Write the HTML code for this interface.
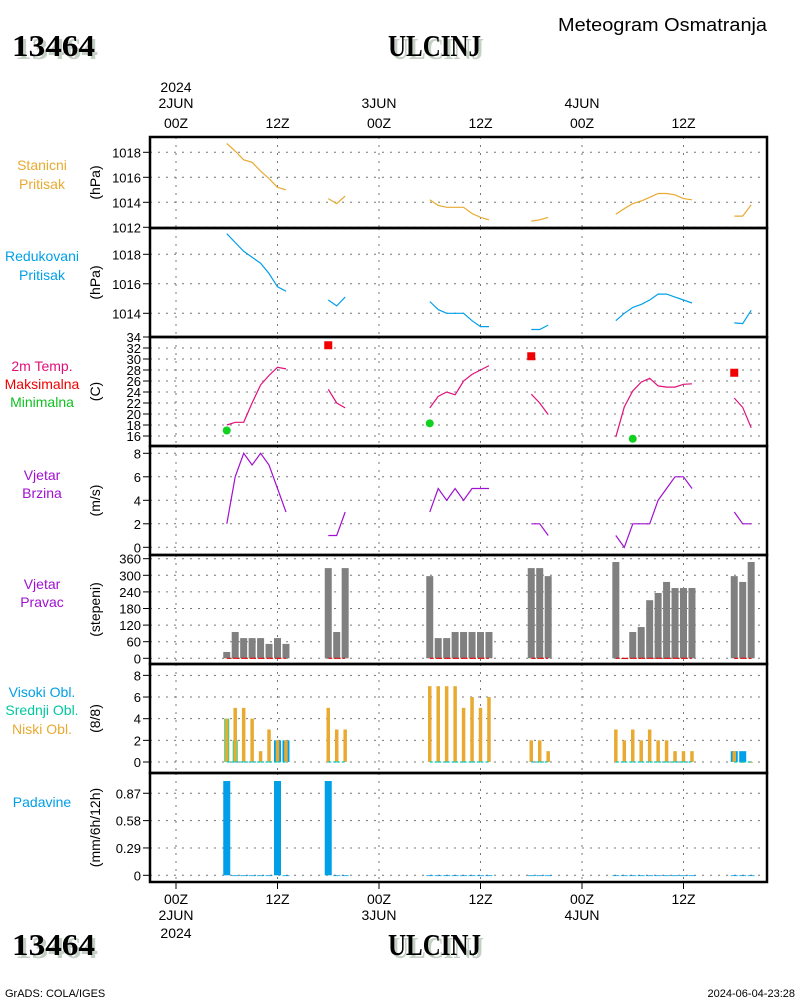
<!DOCTYPE html>
<html><head><meta charset="utf-8"><style>
body{margin:0;background:#fff;}
svg{display:block;font-family:"Liberation Sans",sans-serif;}
</style></head><body>
<svg id="c" width="800" height="1000" viewBox="0 0 800 1000"></svg>
<script>
const hours=[6,7,8,9,10,11,12,13,18,19,20,30,31,32,33,34,35,36,37,42,43,44,52,53,54,55,56,57,58,59,60,61,66,67,68];
const stanP=[1018.7,1018.1,1017.4,1017.2,1016.5,1015.9,1015.2,1015.0,1014.3,1013.9,1014.5,1014.2,1013.75,1013.6,1013.6,1013.6,1013.1,1012.8,1012.6,1012.5,1012.6,1012.8,1013.05,1013.5,1013.9,1014.1,1014.4,1014.7,1014.7,1014.6,1014.3,1014.2,1012.9,1012.9,1013.8];
const redP=[1019.4,1018.8,1018.2,1017.8,1017.4,1016.7,1015.8,1015.5,1014.9,1014.5,1015.1,1014.8,1014.25,1014,1014,1014,1013.5,1013.1,1013.1,1012.9,1012.9,1013.2,1013.5,1014,1014.4,1014.6,1014.9,1015.3,1015.3,1015.1,1014.9,1014.7,1013.35,1013.3,1014.2];
const temp=[18,18.5,18.5,22,25.3,27,28.5,28.2,24.5,22,21.1,21.1,23.2,24,23.5,26,27.2,28,28.8,23.6,22,19.9,15.8,21.3,24.2,25.8,26.5,25.1,24.9,24.9,25.4,25.5,22.9,21.2,17.5];
const maxHours=[18,42,66];
const maxT=[32.5,30.5,27.5];
const minHours=[6,30,54];
const minT=[17,18.3,15.5];
const wind=[2,6,8,7,8,7,5,3,1,1,3,3,5,4,5,4,5,5,5,2,2,1,1,0,2,2,2,4,5,6,6,5,3,2,2];
const windDir=[23,95,73,73,73,52,73,52,326,95,326,297,73,73,95,95,95,95,95,326,326,297,348,0,95,113,210,236,276,254,254,254,297,276,348];
const lowCloud=[4,5,5,4,1,3,2,2,5,3,3,7,7,7,7,5,6,5,6,2,2,1,3,2,3,2,3,2,2,1,1,1,1,0,0];
const midCloud=[4,2,0,0,0,0,0,0,0,0,0,0,0,0,0,0,0,0,0,0,0,0,0,0,0,0,0,0,0,0,0,0,0,0,0];
const highCloud=[0,0,0,0,0,0,2,2,0,0,0,0,0,0,0,0,0,0,0,0,0,0,0,0,0,0,0,0,0,0,0,0,1,1,0];
const precip=[1.0,0,0,0,0,0,1.0,0,1.0,0,0,0,0,0,0,0,0,0,0,0,0,0,0,0,0,0,0,0,0,0,0,0,0,0,0];
const stanTicks=[1012,1014,1016,1018];
const redTicks=[1014,1016,1018];
const tempTicks=[16,18,20,22,24,26,28,30,32,34];
const windTicks=[0,2,4,6,8];
const dirTicks=[0,60,120,180,240,300,360];
const cloudTicks=[0,2,4,6,8];
const precipTicks=[0,0.29,0.58,0.87];
const timeTicks=[0,12,24,36,48,60];
const timeLabels=["00Z","12Z","00Z","12Z","00Z","12Z"];

const NS="http://www.w3.org/2000/svg";
const svg=document.getElementById('c');
function el(tag,attrs,parent){const e=document.createElementNS(NS,tag);for(const k in attrs)e.setAttribute(k,attrs[k]);(parent||svg).appendChild(e);return e;}
function txt(s,x,y,attrs,name){const t=el('text',Object.assign({x:x,y:y,'font-size':13},attrs));t.textContent=s;


return t;}
const X=h=>176+h*101.5/12;
const L=150,R=767;
const panels=[
 {t:137,b:228,y:v=>202.3-(v-1014)*12.5,ticks:stanTicks,unit:"(hPa)",name:"station-pressure"},
 {t:228,b:337,y:v=>313.3-(v-1014)*14.75,ticks:redTicks,unit:"(hPa)",name:"reduced-pressure"},
 {t:337,b:446,y:v=>436-(v-16)*5.5,ticks:tempTicks,unit:"(C)",name:"temperature"},
 {t:446,b:555,y:v=>547.3-v*11.75,ticks:windTicks,unit:"(m/s)",name:"wind-speed"},
 {t:555,b:664,y:v=>658.3-v*0.2767,ticks:dirTicks,unit:"(stepeni)",name:"wind-direction"},
 {t:664,b:773,y:v=>762-v*10.83,ticks:cloudTicks,unit:"(8/8)",name:"cloud-cover"},
 {t:773,b:882,y:v=>875.3-v*94.3,ticks:precipTicks,unit:"(mm/6h/12h)",name:"precipitation"}];
panels.forEach(p=>{
 const g=el('g',{});
 
 
 timeTicks.forEach(h=>el('line',{x1:X(h),x2:X(h),y1:p.t,y2:p.b,stroke:'#777','stroke-dasharray':'2,6'},g));
 p.ticks.forEach(v=>{const y=p.y(v);
  el('line',{x1:L,x2:R,y1:y,y2:y,stroke:'#777','stroke-dasharray':'2,6'},g);
  el('line',{x1:143,x2:L,y1:y,y2:y,stroke:'#000'},g);
  txt(String(v),141,y+5,{'text-anchor':'end'},p.name+'-tick-label');});
 const cy=(p.t+p.b)/2;
 txt(p.unit,100,cy,{'text-anchor':'middle',transform:`rotate(-90 100 ${cy})`,'font-size':14},p.name+'-axis-title');
});
function line(vals,pi,color,name){
 const p=panels[pi];let d="";
 hours.forEach((h,i)=>{const v=vals[i];const cont=i>0&&hours[i]-hours[i-1]===1;
  d+=(cont?"L":"M")+X(h).toFixed(1)+","+p.y(v).toFixed(1);});
 const e=el('path',{d:d,fill:'none',stroke:color,'stroke-width':1.2});
 
 
}
line(stanP,0,'#e8aa30','station-pressure-line');
line(redP,1,'#00a0e8','reduced-pressure-line');
line(temp,2,'#e0107a','temperature-line');
line(wind,3,'#a010d0','wind-speed-line');
maxHours.forEach((h,i)=>{const r=el('rect',{x:X(h)-4,y:panels[2].y(maxT[i])-4,width:8,height:8,fill:'#f00000'});
 
 });
minHours.forEach((h,i)=>{const c=el('circle',{cx:X(h),cy:panels[2].y(minT[i]),r:4,fill:'#10d020'});
 
 });
function bar(h,v,pi,w,color,name){const p=panels[pi];const y0=p.y(0),y1=p.y(v);
 const r=el('rect',{x:X(h)-w/2,y:Math.min(y0,y1),width:w,height:Math.max(Math.abs(y0-y1),0.8),fill:color});
 
 }
hours.forEach((h,i)=>{
 bar(h,windDir[i],4,7,'#808080','wind-direction-bar');
 if(highCloud[i]>0)bar(h,highCloud[i],5,7,'#00a0e8','high-cloud-bar');
 if(midCloud[i]>0){bar(h,midCloud[i],5,5,'#00d8a0','mid-cloud-bar');}
 bar(h,lowCloud[i],5,3.5,'#e8aa30','low-cloud-bar');
 bar(h,precip[i],6,7,'#00a0e8','precip-bar');
});
hours.forEach((h,i)=>{if(i<hours.length-1&&hours[i+1]-h===1){
 const a=el('line',{x1:X(h),x2:X(h+1),y1:panels[4].y(0),y2:panels[4].y(0),stroke:'#e00000','stroke-dasharray':'4,2','stroke-width':1.2});
 
 
 const b=el('line',{x1:X(h),x2:X(h+1),y1:panels[5].y(0),y2:panels[5].y(0),stroke:'#00c8c0','stroke-dasharray':'3,2','stroke-width':1.2});
 
 }});
panels.forEach(p=>{const r=el('rect',{x:L,y:p.t,width:R-L,height:p.b-p.t,fill:'none',stroke:'#000','stroke-width':2.5});
 
 });
timeTicks.forEach((h,i)=>{
 el('line',{x1:X(h),x2:X(h),y1:882,y2:889,stroke:'#000'});
 txt(timeLabels[i],X(h),128,{'text-anchor':'middle','font-size':14},'top-time-label');
 txt(timeLabels[i],X(h),904,{'text-anchor':'middle','font-size':14},'bottom-time-label');
});
[["2JUN",0],["3JUN",24],["4JUN",48]].forEach(d=>{
 txt(d[0],X(d[1]),108,{'text-anchor':'middle','font-size':14},'top-date-label');
 txt(d[0],X(d[1]),920,{'text-anchor':'middle','font-size':14},'bottom-date-label');});
txt("2024",X(0),92,{'text-anchor':'middle','font-size':14},'top-year-label');
txt("2024",X(0),938,{'text-anchor':'middle','font-size':14},'bottom-year-label');
const leg=[["Stanicni",170,'#e8aa30'],["Pritisak",189,'#e8aa30'],["Redukovani",261,'#00a0e8'],["Pritisak",280,'#00a0e8'],
["2m Temp.",371,'#e0107a'],["Maksimalna",389,'#f00000'],["Minimalna",407,'#10c020'],["Vjetar",480,'#a010d0'],["Brzina",498,'#a010d0'],
["Vjetar",589,'#a010d0'],["Pravac",607,'#a010d0'],["Visoki Obl.",697,'#00a0e8'],["Srednji Obl.",715,'#00c8a0'],["Niski Obl.",734,'#e8aa30'],["Padavine",807,'#00a0e8']];
leg.forEach(l=>txt(l[0],42,l[1],{'text-anchor':'middle',fill:l[2],'font-size':14},'legend-label'));
function title(s,x,y,w,name){
 const a={'font-family':'Liberation Serif,serif','font-weight':'bold','font-size':31,textLength:w,lengthAdjust:'spacingAndGlyphs'};
 txt(s,x+3,y+3,Object.assign({fill:'#c4d0c4'},a),name+'-shadow');
 txt(s,x,y,Object.assign({fill:'#000'},a),name);}
title("13464",12,56,83,'station-id');
title("ULCINJ",388,56,93,'station-name');
title("13464",12,955,83,'station-id-bottom');
title("ULCINJ",388,955,93,'station-name-bottom');
txt("Meteogram Osmatranja",558,31,{'font-size':18,textLength:209,lengthAdjust:'spacingAndGlyphs'},'chart-title');
txt("GrADS: COLA/IGES",5,997,{'font-size':11},'credit-label');
txt("2024-06-04-23:28",795,997,{'font-size':11,'text-anchor':'end'},'timestamp-label');
</script>
</body></html>
